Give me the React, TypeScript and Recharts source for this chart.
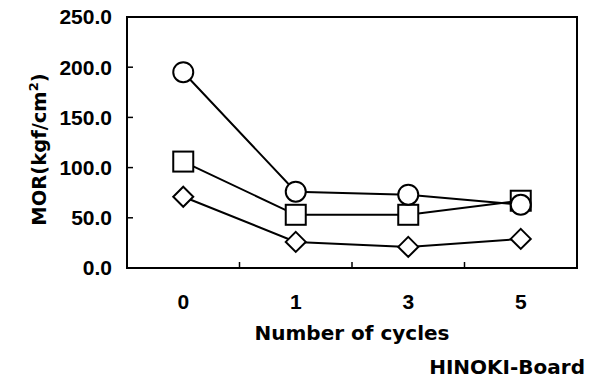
import { LineChart, Line, XAxis, YAxis, ReferenceArea } from "recharts";

const CYCLES = ["0", "1", "3", "5"];
const CIRCLE = [195, 76, 73, 63];
const SQUARE = [106, 53, 53, 67];
const DIAMOND = [71, 26, 21, 29];
const Y_TICKS = [0, 50, 100, 150, 200, 250];

const data = CYCLES.map((c, i) => ({
  cycle: c,
  circle: CIRCLE[i],
  square: SQUARE[i],
  diamond: DIAMOND[i],
}));

const TICK_FONT = { fontFamily: "'Liberation Sans', Arial, sans-serif", fontWeight: 700, fontSize: 21, fill: "#000" };
const TITLE_FONT = "'DejaVu Sans', sans-serif";
const X_TICK_SIZE = 6;
const X_TICK_MARGIN = 20;

const CircleDot = (props: any) => {
  const { cx, cy } = props;
  if (cx == null || cy == null) return null;
  return <circle cx={cx} cy={cy} r={10} fill="#fff" stroke="#000" strokeWidth={2} />;
};

const SquareDot = (props: any) => {
  const { cx, cy } = props;
  if (cx == null || cy == null) return null;
  return <rect x={cx - 10} y={cy - 10} width={20} height={20} fill="#fff" stroke="#000" strokeWidth={2} />;
};

const DiamondDot = (props: any) => {
  const { cx, cy } = props;
  if (cx == null || cy == null) return null;
  const s = 10;
  return (
    <path
      d={`M${cx},${cy - s}L${cx + s},${cy}L${cx},${cy + s}L${cx - s},${cy}Z`}
      fill="#fff"
      stroke="#000"
      strokeWidth={2}
    />
  );
};

// category label at band centre, plus a short inward tick at the band's right edge
const XTick = (props: any) => {
  const { x, y, payload, index, visibleTicksCount } = props;
  const half = payload && payload.offset ? payload.offset : 56.25;
  const axisY = y - X_TICK_SIZE - X_TICK_MARGIN;
  const last = index === visibleTicksCount - 1;
  return (
    <g>
      <text x={x} y={y} dy="0.71em" textAnchor="middle" {...TICK_FONT}>
        {payload.value}
      </text>
      {!last && <line x1={x + half} x2={x + half} y1={axisY} y2={axisY - 6} stroke="#000" strokeWidth={1.5} />}
    </g>
  );
};

const XTitle = (props: any) => {
  const { x, y, width } = props.viewBox;
  return (
    <g fontFamily={TITLE_FONT} fontWeight={700} fontSize={20} fill="#000">
      <text x={x + width / 2} y={y + 72} textAnchor="middle">
        Number of cycles
      </text>
      <text x={x + width + 8} y={y + 106} textAnchor="end">
        HINOKI-Board
      </text>
    </g>
  );
};

const YTitle = (props: any) => {
  const { y, height } = props.viewBox;
  const cx = 46;
  const cy = y + height / 2 + 7;
  return (
    <text
      transform={`translate(${cx},${cy}) rotate(-90)`}
      textAnchor="middle"
      fontFamily={TITLE_FONT}
      fontWeight={700}
      fontSize={19.5}
      fill="#000"
    >
      MOR(kgf/cm
      <tspan dy={-8} fontSize={13}>2</tspan>
      <tspan dy={8}>)</tspan>
    </text>
  );
};

export default function App() {
  return (
    <div style={{ position: "absolute", left: 0, top: 0, background: "#fff" }}>
      <LineChart width={597} height={380} data={data} margin={{ top: 17, right: 20, bottom: 0, left: 0 }}>
        <XAxis
          dataKey="cycle"
          scale="band"
          height={112}
          axisLine={{ stroke: "#000", strokeWidth: 2 }}
          tickLine={false}
          tickSize={X_TICK_SIZE}
          tickMargin={X_TICK_MARGIN}
          tick={<XTick />}
          label={<XTitle />}
        />
        <YAxis
          width={127}
          domain={[0, 250]}
          ticks={Y_TICKS}
          tickFormatter={(v: number) => v.toFixed(1)}
          tickSize={-6}
          tickMargin={21}
          tick={TICK_FONT}
          axisLine={{ stroke: "#000", strokeWidth: 2 }}
          tickLine={{ stroke: "#000", strokeWidth: 1.5 }}
          label={<YTitle />}
        />
        <ReferenceArea y1={0} y2={250} fill="none" stroke="#000" strokeWidth={2} ifOverflow="visible" />
        <Line dataKey="diamond" stroke="#000" strokeWidth={2} dot={<DiamondDot />} activeDot={false} isAnimationActive={false} />
        <Line dataKey="square" stroke="#000" strokeWidth={2} dot={<SquareDot />} activeDot={false} isAnimationActive={false} />
        <Line dataKey="circle" stroke="#000" strokeWidth={2} dot={<CircleDot />} activeDot={false} isAnimationActive={false} />
      </LineChart>
    </div>
  );
}
